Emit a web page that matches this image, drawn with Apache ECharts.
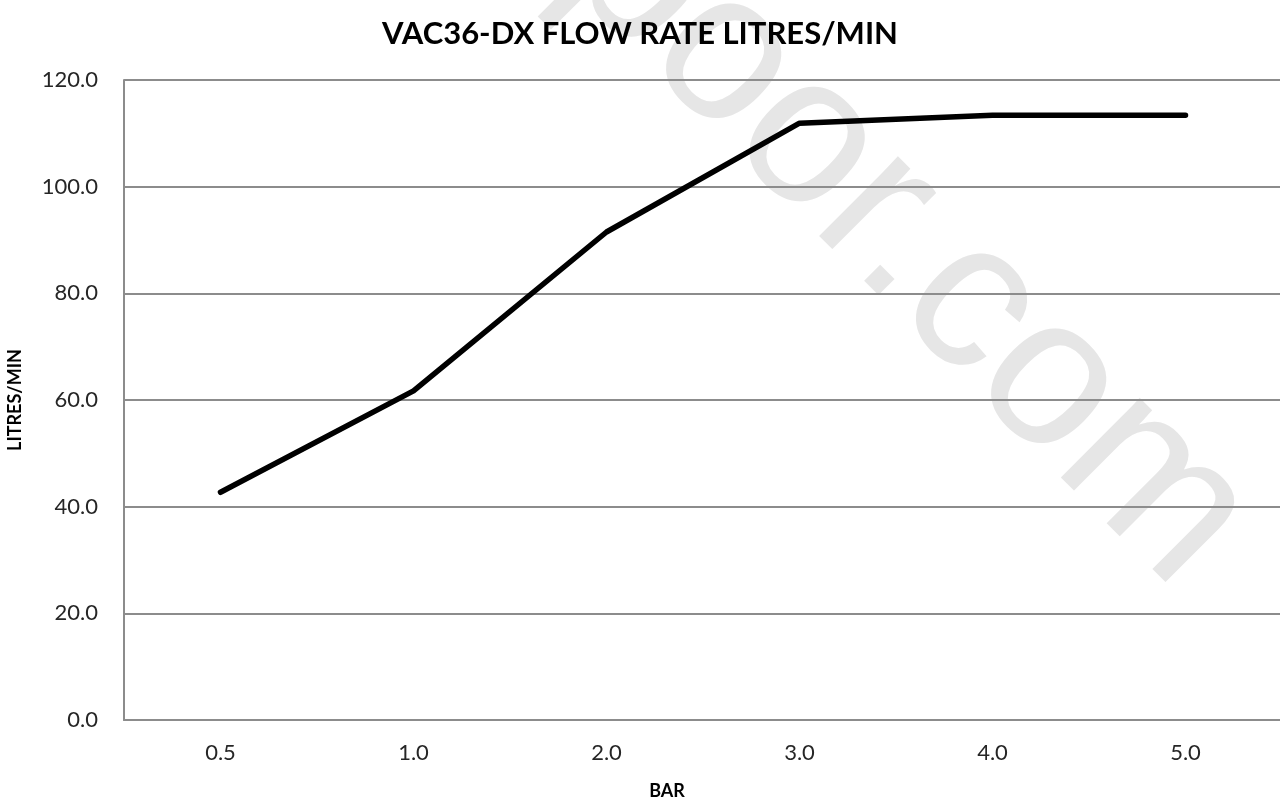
<!DOCTYPE html>
<html>
<head>
<meta charset="utf-8">
<title>VAC36-DX Flow Rate</title>
<script src="https://cdn.jsdelivr.net/npm/echarts@6/dist/echarts.min.js"></script>
<style>
  html, body { margin: 0; padding: 0; background: #fff; }
  #chart { width: 1280px; height: 805px; }
</style>
</head>
<body>
<div id="chart"></div>
<script>
const pressureBar = ["0.5", "1.0", "2.0", "3.0", "4.0", "5.0"];
const flowLitresMin = [42.7, 61.7, 91.5, 111.9, 113.4, 113.4];
const yTicks = { min: 0, max: 120, interval: 20 };

const FONT = "Lato, 'Open Sans', sans-serif";
const GRID_GREY = "#8c8c8c";

const chart = echarts.init(document.getElementById("chart"), null, { renderer: "canvas" });

const option = {
  animation: false,
  backgroundColor: "#fff",
  title: {
    text: "VAC36-DX FLOW RATE LITRES/MIN",
    left: "center",
    top: 13,
    textStyle: { fontFamily: FONT, fontSize: 31, fontWeight: "bold", color: "#000" },
  },
  grid: { left: 124, top: 80, width: 1158, height: 640, outerBoundsMode: "none", containLabel: false },
  xAxis: {
    type: "category",
    data: pressureBar,
    boundaryGap: true,
    name: "BAR",
    nameLocation: "middle",
    nameGap: 62,
    nameTextStyle: {
      fontFamily: FONT, fontSize: 18, fontWeight: "bold", color: "#000",
      padding: [0, 72, 0, 0],
    },
    axisLine: { lineStyle: { color: GRID_GREY, width: 2 } },
    axisTick: { show: false },
    axisLabel: { fontFamily: FONT, fontSize: 22, color: "#262626", margin: 22 },
  },
  yAxis: {
    type: "value",
    min: yTicks.min,
    max: yTicks.max,
    interval: yTicks.interval,
    name: "LITRES/MIN",
    nameLocation: "middle",
    nameRotate: 90,
    nameGap: 100,
    nameTextStyle: { fontFamily: FONT, fontSize: 18, fontWeight: "bold", color: "#000" },
    axisLine: { show: true, lineStyle: { color: GRID_GREY, width: 2 } },
    axisTick: { show: false },
    axisLabel: {
      fontFamily: FONT, fontSize: 22, color: "#262626", margin: 26,
      formatter: (v) => v.toFixed(1),
    },
    splitLine: { lineStyle: { color: GRID_GREY, width: 2 } },
  },
  graphic: [
    {
      type: "text",
      x: 600,
      y: -66,
      rotation: -Math.PI / 4,
      silent: true,
      z: 0,
      style: {
        text: "poor.com",
        fontFamily: "'Liberation Sans', Arial, sans-serif",
        fontSize: 212,
        fill: "#e6e6e6",
        textAlign: "left",
        textVerticalAlign: "middle",
      },
    },
  ],
  series: [
    {
      type: "line",
      data: flowLitresMin,
      showSymbol: false,
      symbol: "none",
      z: 5,
      lineStyle: { color: "#000", width: 5.5, cap: "round", join: "round" },
    },
  ],
};

chart.setOption(option);
</script>
</body>
</html>
